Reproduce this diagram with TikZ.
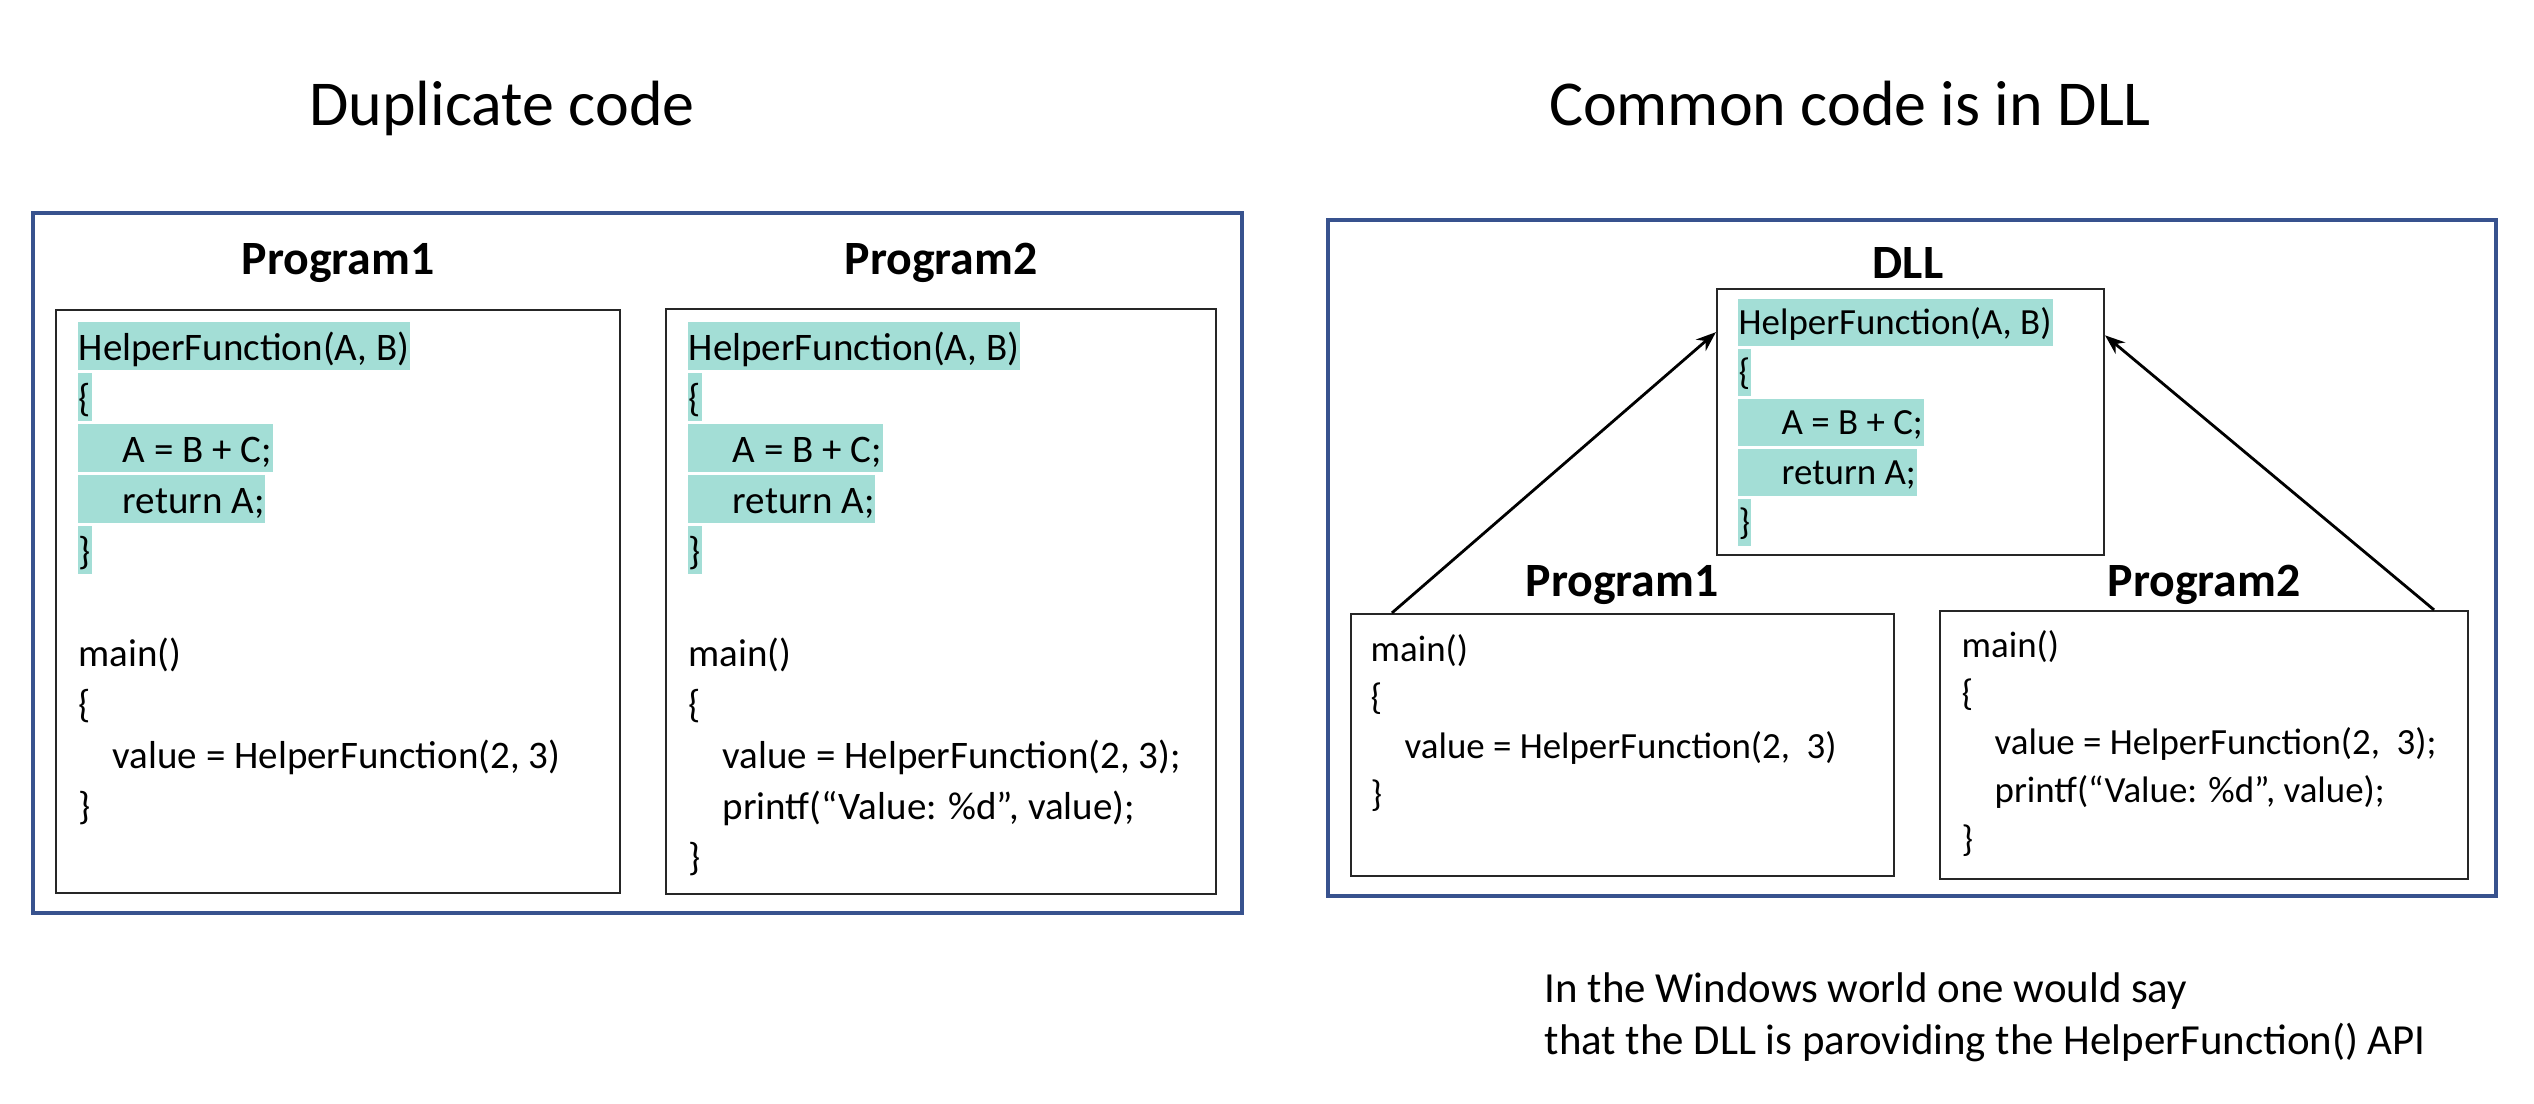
\documentclass[tikz,border=0pt]{standalone}
\usepackage{fontspec}
\setmainfont{Carlito}
\usetikzlibrary{calc,arrows.meta}
\definecolor{hlcol}{RGB}{163,222,214}
\definecolor{framecol}{RGB}{56,82,142}
\tikzset{
	frame/.style={draw=framecol, line width=1pt},
	codebox/.style={draw=black!85, line width=0.6pt, inner sep=0pt},
	title/.style={anchor=base, font=\fontsize{18.2}{22}\selectfont},
	progtitle/.style={anchor=base, font=\fontsize{13.6}{16}\selectfont\bfseries},
	codeL/.style={anchor=base west, inner xsep=0.01cm, inner ysep=0pt, text height=0.39cm, text depth=0.09cm, font=\fontsize{11.1}{13}\selectfont},
	codeR/.style={codeL, text height=0.36cm, text depth=0.11cm, font=\fontsize{10.5}{12.5}\selectfont},
	hl/.style={fill=hlcol},
	note/.style={anchor=base west, align=left, inner sep=0pt, font=\fontsize{12.2}{14.8}\selectfont},
	uses/.style={-{Stealth[length=0.2cm,width=0.15cm]}, line width=0.8pt}
}

\begin{document}
\begin{tikzpicture}
			%%%%% START %%%%%
			
			\fill[white] (0,0) rectangle (25.34,11.04);
			
			%%%%% LEFT: duplicate code %%%%%
			\node[title] (dup) at (5.02,9.78) {Duplicate code};
			\draw[frame] (0.33,8.91) rectangle (12.42,1.91);
			
			\node[progtitle] (t1) at (3.38,8.29) {Program1};
			\node[codebox, minimum width=5.64cm, minimum height=5.83cm] (p1) at (3.38,5.025) {};
			\node[codeL, hl] (p1h) at (0.77,7.43) {HelperFunction(A, B)};
			\node[codeL, hl] (p1o) at (0.77,6.92) {\{};
			\node[codeL, hl] (p1s) at (0.77,6.41) {\hspace*{0.44cm}A = B + C;};
			\node[codeL, hl] (p1r) at (0.77,5.90) {\hspace*{0.44cm}return A;};
			\node[codeL, hl] (p1c) at (0.77,5.39) {\}};
			\node[codeL] (p1m) at (0.77,4.37) {main()};
			\node[codeL] (p1b) at (0.77,3.86) {\{};
			\node[codeL] (p1v) at (0.77,3.35) {\hspace*{0.34cm}value = HelperFunction(2, 3)};
			\node[codeL] (p1e) at (0.77,2.84) {\}};
			
			\node[progtitle] (t2) at (9.41,8.29) {Program2};
			\node[codebox, minimum width=5.50cm, minimum height=5.85cm] (p2) at (9.41,5.025) {};
			\node[codeL, hl] (p2h) at (6.87,7.43) {HelperFunction(A, B)};
			\node[codeL, hl] (p2o) at (6.87,6.92) {\{};
			\node[codeL, hl] (p2s) at (6.87,6.41) {\hspace*{0.44cm}A = B + C;};
			\node[codeL, hl] (p2r) at (6.87,5.90) {\hspace*{0.44cm}return A;};
			\node[codeL, hl] (p2c) at (6.87,5.39) {\}};
			\node[codeL] (p2m) at (6.87,4.37) {main()};
			\node[codeL] (p2b) at (6.87,3.86) {\{};
			\node[codeL] (p2v) at (6.87,3.35) {\hspace*{0.34cm}value = HelperFunction(2, 3);};
			\node[codeL] (p2p) at (6.87,2.84) {\hspace*{0.34cm}printf(“Value: \%d”, value);};
			\node[codeL] (p2e) at (6.87,2.33) {\}};
			
			%%%%% RIGHT: common code in DLL %%%%%
			\node[title] (com) at (18.50,9.78) {Common code is in DLL};
			\draw[frame] (13.28,8.84) rectangle (24.96,2.08);
			
			\node[progtitle] (td) at (19.08,8.25) {DLL};
			\node[codebox, minimum width=3.87cm, minimum height=2.66cm] (dll) at (19.105,6.82) {};
			\node[codeR, hl] (dh) at (17.37,7.69) {HelperFunction(A, B)};
			\node[codeR, hl] (do) at (17.37,7.19) {\{};
			\node[codeR, hl] (ds) at (17.37,6.69) {\hspace*{0.43cm}A = B + C;};
			\node[codeR, hl] (dr) at (17.37,6.19) {\hspace*{0.43cm}return A;};
			\node[codeR, hl] (dc) at (17.37,5.69) {\}};
			
			\node[progtitle] (t3) at (16.22,5.07) {Program1};
			\node[codebox, minimum width=5.43cm, minimum height=2.62cm] (q1) at (16.225,3.59) {};
			\node[codeR] (q1m) at (13.69,4.42) {main()};
			\node[codeR] (q1b) at (13.69,3.94) {\{};
			\node[codeR] (q1v) at (13.69,3.45) {\hspace*{0.34cm}value = HelperFunction(2,\ \ 3)};
			\node[codeR] (q1e) at (13.69,2.97) {\}};
			
			\node[progtitle] (t4) at (22.04,5.07) {Program2};
			\node[codebox, minimum width=5.28cm, minimum height=2.68cm] (q2) at (22.04,3.59) {};
			\node[codeR] (q2m) at (19.60,4.46) {main()};
			\node[codeR] (q2b) at (19.60,3.98) {\{};
			\node[codeR] (q2v) at (19.60,3.49) {\hspace*{0.33cm}value = HelperFunction(2,\ \ 3);};
			\node[codeR] (q2p) at (19.60,3.01) {\hspace*{0.33cm}printf(“Value: \%d”, value);};
			\node[codeR] (q2e) at (19.60,2.52) {\}};
			
			\draw[uses] ($(q1.north west)!0.077!(q1.north east)$) -- ($(dll.north west)!0.165!(dll.south west)$);
			\draw[uses] ($(q2.north west)!0.934!(q2.north east)$) -- ($(dll.north east)!0.177!(dll.south east)$);
			
			\node[note] (rem) at (15.44,0.49) {In the Windows world one would say\\that the DLL is paroviding the HelperFunction() API};
			
			%%%%% END %%%%%
\end{tikzpicture}
\end{document}
